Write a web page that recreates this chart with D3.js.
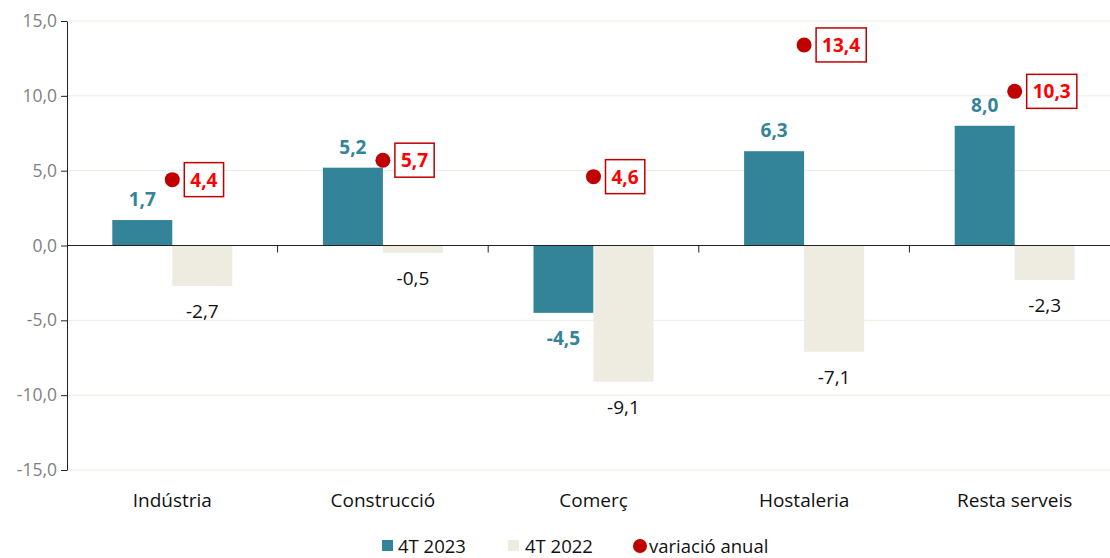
<!DOCTYPE html>
<html lang="ca">
<head>
<meta charset="UTF-8">
<title>Variació per sectors</title>
<script src="https://d3js.org/d3.v7.min.js"></script>
<style>
  body { margin: 0; background: #fff; }
  svg { font-family: "Open Sans", Lato, sans-serif; display: block; }
</style>
</head>
<body>
<svg id="chart" width="1110" height="558"></svg>
<script>
// dades
const categories = ["Indústria", "Construcció", "Comerç", "Hostaleria", "Resta serveis"];
const values2023 = [1.7, 5.2, -4.5, 6.3, 8.0];
const values2022 = [-2.7, -0.5, -9.1, -7.1, -2.3];
const variacio = [4.4, 5.7, 4.6, 13.4, 10.3];
const yTicks = [15, 10, 5, 0, -5, -10, -15];
const legendLabels = ["4T 2023", "4T 2022", "variació anual"];

const teal = "#338499", beige = "#EEEBE0", red = "#C00000";
// format català: coma decimal i guió normal
const fmt = d => d.toFixed(1).replace(".", ",");

const svg = d3.select("#chart");
const x = d3.scaleBand().domain(categories).range([67, 1120]).paddingInner(0).paddingOuter(0);
const y = d3.scaleLinear().domain([-15, 15]).range([470, 21]);
const barW = 60;

// línies de graella
svg.append("g").selectAll("line").data(yTicks.filter(d => d !== 0)).enter().append("line")
  .attr("x1", 67).attr("x2", 1110)
  .attr("y1", d => y(d)).attr("y2", d => y(d))
  .attr("stroke", "#ebebe4").attr("stroke-width", 1);

// eix Y
const yAxis = svg.append("g").attr("transform", "translate(67,0)")
  .call(d3.axisLeft(y).tickValues(yTicks).tickFormat(fmt).tickSize(6).tickSizeOuter(0));
yAxis.select(".domain").attr("stroke", "#222");
yAxis.selectAll(".tick line").attr("stroke", "#222");
yAxis.selectAll("text").attr("fill", "#7f7f7f").style("font-size", "17.5px")
  .style("font-family", "'Open Sans', sans-serif").attr("x", -10);

// barres 2023
svg.append("g").selectAll("rect").data(values2023).enter().append("rect")
  .attr("x", (d, i) => x(categories[i]) + x.bandwidth() / 2 - barW)
  .attr("width", barW)
  .attr("y", d => y(Math.max(0, d)))
  .attr("height", d => Math.abs(y(d) - y(0)))
  .attr("fill", teal);

// barres 2022
svg.append("g").selectAll("rect").data(values2022).enter().append("rect")
  .attr("x", (d, i) => x(categories[i]) + x.bandwidth() / 2)
  .attr("width", barW)
  .attr("y", d => y(Math.max(0, d)))
  .attr("height", d => Math.abs(y(d) - y(0)))
  .attr("fill", beige);

// eix X (línia del zero)
svg.append("line").attr("x1", 67).attr("x2", 1110).attr("y1", y(0)).attr("y2", y(0))
  .attr("stroke", "#222");
svg.append("g").selectAll("line").data(categories.slice(1)).enter().append("line")
  .attr("x1", d => x(d)).attr("x2", d => x(d))
  .attr("y1", y(0)).attr("y2", y(0) + 7).attr("stroke", "#222");

// etiquetes de categoria
svg.append("g").selectAll("text").data(categories).enter().append("text")
  .attr("x", d => x(d) + x.bandwidth() / 2).attr("y", 507)
  .attr("text-anchor", "middle").style("font-size", "19px").attr("fill", "#111")
  .text(d => d);

// etiquetes 2023
svg.append("g").selectAll("text").data(values2023).enter().append("text")
  .attr("x", (d, i) => x(categories[i]) + x.bandwidth() / 2 - barW / 2)
  .attr("y", d => d >= 0 ? y(d) - 14 : y(d) + 32)
  .attr("text-anchor", "middle").style("font-size", "19px").style("font-weight", "bold")
  .attr("fill", teal).text(fmt);

// etiquetes 2022
svg.append("g").selectAll("text").data(values2022).enter().append("text")
  .attr("x", (d, i) => x(categories[i]) + x.bandwidth() / 2 + barW / 2)
  .attr("y", d => y(d) + 32)
  .attr("text-anchor", "middle").style("font-size", "19px")
  .attr("fill", "#111").text(fmt);

// variació anual
const vg = svg.append("g").selectAll("g").data(variacio).enter().append("g")
  .attr("transform", (d, i) => `translate(${x(categories[i]) + x.bandwidth() / 2},${y(d)})`);
vg.append("circle").attr("r", 7.5).attr("fill", red);
vg.append("text").attr("x", 18).attr("y", 7)
  .style("font-size", "19px").style("font-weight", "bold").attr("fill", "#ff0000")
  .text(fmt)
  .each(function () {
    const b = this.getBBox();
    d3.select(this.parentNode).insert("rect", "text")
      .attr("x", 12).attr("y", -17).attr("width", b.width + 12).attr("height", 34)
      .attr("fill", "#fff").attr("stroke", red).attr("stroke-width", 1.5);
  });

// llegenda
const lg = svg.append("g").attr("transform", "translate(0,546)");
lg.append("rect").attr("x", 382).attr("y", -6).attr("width", 11).attr("height", 11).attr("fill", teal);
lg.append("text").attr("x", 398).attr("y", 6.5).style("font-size", "18.5px").attr("fill", "#111").text(legendLabels[0]);
lg.append("rect").attr("x", 508).attr("y", -6).attr("width", 11).attr("height", 11).attr("fill", beige);
lg.append("text").attr("x", 525).attr("y", 6.5).style("font-size", "18.5px").attr("fill", "#111").text(legendLabels[1]);
lg.append("circle").attr("cx", 640).attr("cy", 0).attr("r", 7).attr("fill", red);
lg.append("text").attr("x", 649).attr("y", 6.5).style("font-size", "18.5px").attr("fill", "#111").text(legendLabels[2]);
</script>
</body>
</html>
